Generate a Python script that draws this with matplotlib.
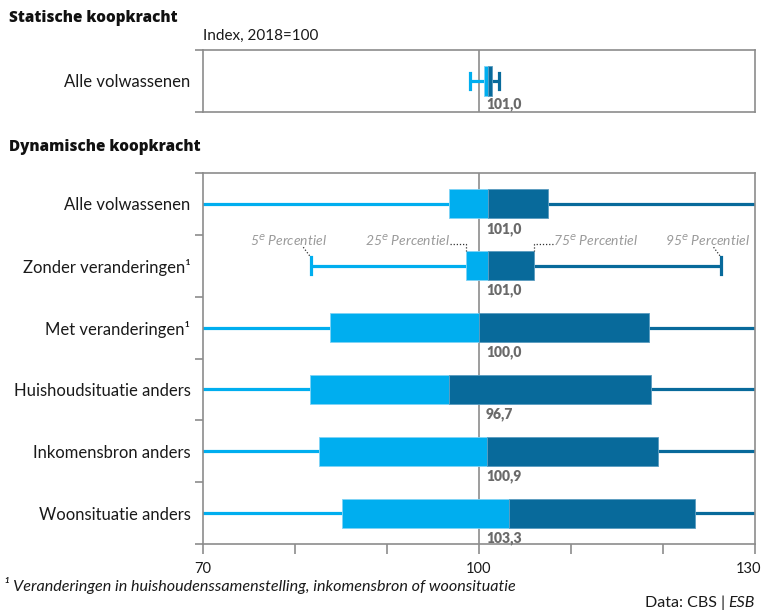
import matplotlib.pyplot as plt
import matplotlib.ticker as mticker
import matplotlib.transforms as mtransforms

plt.rcParams['font.family'] = ['Lato', 'DejaVu Sans']

# Statische koopkracht (index, 2018=100)
stat_label = 'Alle volwassenen'
stat_p5, stat_q25, stat_med, stat_q75, stat_p95 = 99.0, 100.5, 101.0, 101.4, 102.2

# Dynamische koopkracht; None = whisker runs past the axis
groups = ['Alle volwassenen', 'Zonder veranderingen\u00b9', 'Met veranderingen\u00b9',
          'Huishoudsituatie anders', 'Inkomensbron anders', 'Woonsituatie anders']
p5 = [None, 81.7, None, None, None, None]
q25 = [96.7, 98.6, 83.8, 81.6, 82.6, 85.1]
med = [101.0, 101.0, 100.0, 96.7, 100.9, 103.3]
q75 = [107.5, 106.0, 118.5, 118.7, 119.5, 123.5]
p95 = [None, 126.3, None, None, None, None]
med_labels = ['101,0', '101,0', '100,0', '96,7', '100,9', '103,3']

xmin, xmax = 70, 130
light = '#00aeef'
dark = '#086a9b'
grey = '#8c8c8c'
numgrey = '#6a6a6a'


def draw_row(ax, y, lo, a, m, b, hi, caps):
    lo_x = xmin - 5 if lo is None else lo
    hi_x = xmax + 5 if hi is None else hi
    ax.plot([lo_x, a], [y, y], color=light, lw=2.3, solid_capstyle='butt', zorder=2)
    ax.plot([b, hi_x], [y, y], color=dark, lw=2.3, solid_capstyle='butt', zorder=2)
    ax.barh(y, m - a, left=a, height=0.47, color=light, edgecolor='#7fd3f5', lw=0.6, zorder=3)
    ax.barh(y, b - m, left=m, height=0.47, color=dark, edgecolor='#5a9cc0', lw=0.6, zorder=3)
    if caps:
        ax.plot([lo, lo], [y - 0.135, y + 0.135], color=light, lw=2.3, zorder=3)
        ax.plot([hi, hi], [y - 0.135, y + 0.135], color=dark, lw=2.3, zorder=3)


def style(ax, n, labels):
    ax.set_xlim(xmin, xmax)
    ax.set_ylim(n - 0.5, -0.5)
    for s in ax.spines.values():
        s.set_color(grey)
        s.set_linewidth(1.2)
    ax.set_yticks([i - 0.5 for i in range(n + 1)])
    ax.set_yticklabels([])
    ax.set_yticks(range(n), minor=True)
    ax.set_yticklabels(labels, minor=True, fontsize=12, color='#1a1a1a')
    ax.tick_params(axis='y', which='major', length=6, width=1.2, color=grey, direction='out')
    ax.tick_params(axis='y', which='minor', length=0, pad=9)
    ax.axvline(100, color=grey, lw=1.2, zorder=1)


fig = plt.figure(figsize=(7.66, 6.14), dpi=100)

# top panel
ax1 = fig.add_axes([0.265, 0.8176, 0.7206, 0.101])
style(ax1, 1, [stat_label])
ax1.set_xticks([])
draw_row(ax1, 0, stat_p5, stat_q25, stat_med, stat_q75, stat_p95, True)
ax1.text(100.75, 0.38, '101,0', fontsize=10, fontweight='heavy', color=numgrey, va='center')

# bottom panel
ax2 = fig.add_axes([0.265, 0.114, 0.7206, 0.6042])
style(ax2, len(groups), groups)
for i in range(len(groups)):
    draw_row(ax2, i, p5[i], q25[i], med[i], q75[i], p95[i], p5[i] is not None)
    ax2.text(100.75, i + 0.4, med_labels[i], fontsize=10, fontweight='heavy',
             color=numgrey, va='center')

ax2.set_xticks(range(70, 131, 10))
ax2.xaxis.set_major_formatter(mticker.FuncFormatter(
    lambda v, p: str(int(v)) if v in (70, 100, 130) else ''))
ax2.tick_params(axis='x', length=7, width=1.2, color=grey, labelsize=10.5, pad=6,
                labelcolor='#1a1a1a')
# keep the last tick label inside the figure
last = ax2.get_xticklabels()[-1]
last.set_transform(last.get_transform() +
                   mtransforms.ScaledTranslation(-6 / 100, 0, fig.dpi_scale_trans))

# percentile annotations on row 'Zonder veranderingen'
r = 1
ann = dict(fontsize=10, fontstyle='italic', color='#9a9a9a', va='baseline')
dot = dict(color='#333333', lw=0.9, ls=(0, (1, 1.5)), zorder=4)
ty = r - 0.32
ax2.text(p5[r] + 1.75, ty, '5$^{\\mathit{e}}$ Percentiel', ha='right', **ann)
ax2.plot([p5[r] - 0.8, p5[r]], [r - 0.3, r - 0.14], **dot)
ax2.text(q25[r] - 1.8, ty, '25$^{\\mathit{e}}$ Percentiel', ha='right', **ann)
ax2.plot([q25[r] - 1.8, q25[r], q25[r]], [r - 0.36, r - 0.36, r - 0.24], **dot)
ax2.text(q75[r] + 2.1, ty, '75$^{\\mathit{e}}$ Percentiel', ha='left', **ann)
ax2.plot([q75[r] + 2.0, q75[r], q75[r]], [r - 0.36, r - 0.36, r - 0.24], **dot)
ax2.text(p95[r] + 3.2, ty, '95$^{\\mathit{e}}$ Percentiel', ha='right', **ann)
ax2.plot([p95[r] - 0.8, p95[r]], [r - 0.3, r - 0.14], **dot)

# titles and notes
fig.text(9 / 766, 1 - 18 / 614, 'Statische koopkracht', fontsize=11, fontweight='heavy',
         family='Open Sans', color='#111111', va='center')
fig.text(9 / 766, 1 - 147 / 614, 'Dynamische koopkracht', fontsize=11, fontweight='heavy',
         family='Open Sans', color='#111111', va='center')
fig.text(203 / 766, 1 - 36 / 614, 'Index, 2018=100', fontsize=11, color='#1a1a1a', va='center')
fig.text(4 / 766, 1 - 586 / 614,
         '\u00b9 Veranderingen in huishoudenssamenstelling, inkomensbron of woonsituatie',
         fontsize=11.6, fontstyle='italic', color='#1a1a1a', va='center')
fig.text(755 / 766, 1 - 603 / 614, 'ESB', fontsize=11.5, fontstyle='italic',
         color='#1a1a1a', va='center', ha='right')
fig.text(729 / 766, 1 - 603 / 614, 'Data: CBS | ', fontsize=11.5,
         color='#1a1a1a', va='center', ha='right')

fig.savefig('out.png', dpi=100)
